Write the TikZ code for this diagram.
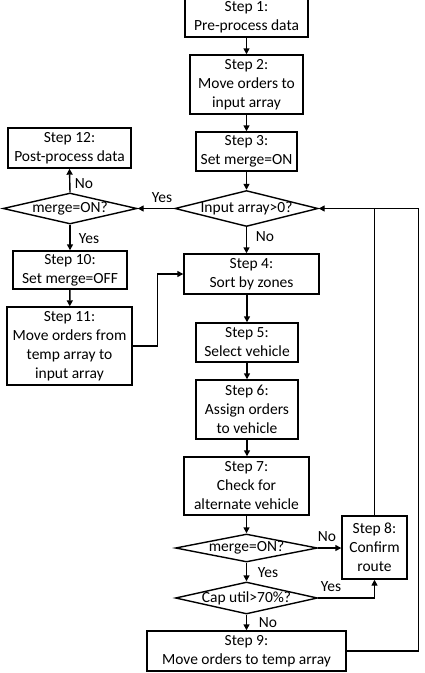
\documentclass[tikz,border=0pt]{standalone}
\usepackage{fontspec}
\setmainfont{Carlito}
\usetikzlibrary{arrows.meta,shapes.geometric}
\begin{document}
\begin{tikzpicture}[x=1pt,y=-1pt,
  every node/.style={font=\fontsize{15.5}{19}\selectfont},
  box/.style={draw,line width=1.4pt,rectangle,inner sep=0pt,align=center},
  dec/.style={draw,line width=1.4pt,diamond,inner sep=0pt},
  lbl/.style={inner sep=0pt},
  conn/.style={line width=1.4pt},
  arr/.style={conn,-{Triangle[length=6pt,width=6pt]}}]
\useasboundingbox (0,0) rectangle (425,673);
% main column
\node[box,minimum width=123pt,minimum height=40pt] (s1) at (246.5,17) {Step 1:\\Pre-process data};
\node[box,minimum width=113pt,minimum height=59pt] (s2) at (246.5,84.5) {Step 2:\\Move orders to\\input array};
\node[box,minimum width=101pt,minimum height=39pt] (s3) at (246.5,151.5) {Step 3:\\Set merge=ON};
\node[dec,minimum width=143pt,minimum height=36pt,label={center:Input array>0?}] (m) at (246.5,208.5) {};
\node[box,minimum width=135pt,minimum height=40pt] (s4) at (251.5,274) {Step 4:\\Sort by zones};
\node[box,minimum width=102pt,minimum height=39pt] (s5) at (247,342.5) {Step 5:\\Select vehicle};
\node[box,minimum width=102pt,minimum height=59pt] (s6) at (247,409.5) {Step 6:\\Assign orders\\to vehicle};
\node[box,minimum width=125pt,minimum height=58pt] (s7) at (246.5,486) {Step 7:\\Check for\\alternate vehicle};
\node[dec,minimum width=142pt,minimum height=28pt,label={center:merge=ON?}] (m2) at (246.5,548) {};
\node[dec,minimum width=142pt,minimum height=32pt,label={center:Cap util>70\%?}] (cap) at (246.5,598) {};
\node[box,minimum width=199pt,minimum height=40pt] (s9) at (246.5,651) {Step 9:\\Move orders to temp array};
\node[box,minimum width=65pt,minimum height=63pt] (s8) at (374.5,547.5) {Step 8:\\Confirm\\route};
% left column
\node[box,minimum width=123pt,minimum height=40pt] (s12) at (69.5,148) {Step 12:\\Post-process data};
\node[dec,minimum width=134pt,minimum height=31pt,label={center:merge=ON?}] (l) at (70,208.5) {};
\node[box,minimum width=114pt,minimum height=38pt] (s10) at (70,270) {Step 10:\\Set merge=OFF};
\node[box,minimum width=125pt,minimum height=78pt] (s11) at (69.5,346) {Step 11:\\Move orders from\\temp array to\\input array};
% labels
\node[lbl] (ly1) at (162,198) {Yes};
\node[lbl] (ln1) at (84,184) {No};
\node[lbl] (ly2) at (89,239) {Yes};
\node[lbl] (ln2) at (265,237) {No};
\node[lbl] (ln3) at (327,537) {No};
\node[lbl] (ly3) at (268,573) {Yes};
\node[lbl] (ly4) at (331,587) {Yes};
\node[lbl] (ln4) at (268,623) {No};
% connectors
\draw[arr] (s1) -- (s2);
\draw[arr] (s2) -- (s3);
\draw[arr] (s3) -- (m);
\draw[arr] (m.west) -- (l.east);
\draw[arr] (l.north) -- (s12.south);
\draw[arr] (l.south) -- (s10.north);
\draw[arr] (s10) -- (s11);
\draw[arr] (s11.east) -- ++(25,0) |- (s4.west);
\draw[arr] (m.south) -- (m.south |- s4.north);
\draw[arr] (s4.south -| s5.north) -- (s5.north);
\draw[arr] (s5) -- (s6);
\draw[arr] (s6.south) -- (s6.south |- s7.north);
\draw[arr] (s7.south) -- (m2.north);
\draw[arr] (m2.east) -- (m2.east -| s8.west);
\draw[arr] (m2.south) -- (cap.north);
\draw[arr] (cap.east) -| (s8.south);
\draw[arr] (cap.south) -- (s9.north);
\draw[conn] (s8.north) -- (s8.north |- m.east);
\draw[arr] (s9.east) -- ++(72,0) |- (m.east);
\end{tikzpicture}
\end{document}
